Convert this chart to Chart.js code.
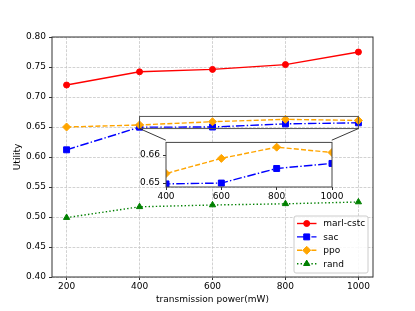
<!DOCTYPE html>
<html><head><meta charset="utf-8">
<script src="https://cdn.jsdelivr.net/npm/chart.js@4.4.1/dist/chart.umd.min.js"></script>
<style>
html,body{margin:0;padding:0;background:#fff;width:415px;height:311px;overflow:hidden}
#wrap{position:relative;width:415px;height:311px}
#main{position:absolute;left:0;top:0}
#inset{position:absolute}
</style></head>
<body><div id="wrap"><canvas id="main" width="415" height="311"></canvas><canvas id="inset" width="10" height="10"></canvas></div>
<script>
// ---- data ----
const powers = [200, 400, 600, 800, 1000];
const marlCstc = [0.720, 0.742, 0.746, 0.754, 0.775];
const sac = [0.612, 0.6497, 0.6500, 0.6552, 0.6570];
const ppo = [0.650, 0.6534, 0.6588, 0.6628, 0.6609];
const rand = [0.499, 0.517, 0.520, 0.522, 0.525];
const seriesNames = ['marl-cstc', 'sac', 'ppo', 'rand'];
const xTicks = [200, 400, 600, 800, 1000];
const yTicks = [0.40, 0.45, 0.50, 0.55, 0.60, 0.65, 0.70, 0.75, 0.80];
const insetXTicks = [400, 600, 800, 1000];
const insetYTicks = [0.65, 0.66];
const xAxisTitle = 'transmission power(mW)';
const yAxisTitle = 'Utility';

// ---- styles ----
const seriesValues = [marlCstc, sac, ppo, rand];
const styles = [
  {color: '#ff0000', dash: [], marker: 'circle', r: 3},
  {color: '#0000ff', dash: [8.6, 2.2, 1.4, 2.2], marker: 'rect', r: 4.2},
  {color: '#ffa500', dash: [5, 2.2], marker: 'rectRot', r: 4},
  {color: '#008000', dash: [1.4, 2.2], marker: 'triangle', r: 3.6}
];
const FONT = {family: '"DejaVu Sans", "Liberation Sans", sans-serif', size: 9};
Chart.defaults.color = '#000';
Chart.defaults.font.family = FONT.family;
Chart.defaults.font.size = FONT.size;

function makeDatasets(include) {
  return seriesNames.map((name, i) => ({
    label: name,
    data: powers.map((p, j) => ({x: p, y: seriesValues[i][j]})),
    borderColor: styles[i].color,
    backgroundColor: styles[i].color,
    borderWidth: 1.4,
    borderDash: styles[i].dash,
    pointStyle: styles[i].marker,
    pointRadius: styles[i].r,
    pointBorderWidth: 1,
    pointBackgroundColor: styles[i].color,
    pointBorderColor: styles[i].color,
    tension: 0,
    fill: false,
    order: seriesNames.length - i,
    hidden: include ? !include.includes(i) : false
  }));
}

// inset placement in main data coordinates & zoom rectangle
const INSET_POS = {x0: 472, x1: 927, y0: 0.55, y1: 0.628};
const ZOOM_RECT = {x0: 400, x1: 1000, y0: 0.6474, y1: 0.6676};
const INSET_LIM = {x0: 400, x1: 1000, y0: 0.6486, y1: 0.6645};

function drawMarker(ctx, style, x, y) {
  if (Chart.helpers && Chart.helpers.drawPoint) {
    Chart.helpers.drawPoint(ctx, {pointStyle: style.marker, radius: style.r, rotation: 0, borderWidth: 1}, x, y);
  } else {
    ctx.beginPath(); ctx.arc(x, y, style.r, 0, Math.PI * 2); ctx.fill(); ctx.stroke();
  }
}

const framePlugin = {
  id: 'frame',
  afterDatasetsDraw(chart) {
    const {ctx, chartArea: ca} = chart;
    ctx.save();
    ctx.strokeStyle = '#333';
    ctx.lineWidth = 1;
    ctx.strokeRect(ca.left, ca.top, ca.right - ca.left, ca.bottom - ca.top);
    ctx.restore();
  }
};

const zoomPlugin = {
  id: 'zoomMark',
  afterDatasetsDraw(chart) {
    const {ctx, scales: {x, y}} = chart;
    const rx0 = x.getPixelForValue(ZOOM_RECT.x0), rx1 = x.getPixelForValue(ZOOM_RECT.x1);
    const ry0 = y.getPixelForValue(ZOOM_RECT.y1), ry1 = y.getPixelForValue(ZOOM_RECT.y0);
    const ix0 = x.getPixelForValue(INSET_POS.x0), ix1 = x.getPixelForValue(INSET_POS.x1);
    const iy0 = y.getPixelForValue(INSET_POS.y1);
    ctx.save();
    ctx.strokeStyle = '#555';
    ctx.lineWidth = 1;
    ctx.strokeRect(rx0, ry0, rx1 - rx0, ry1 - ry0);
    ctx.strokeStyle = '#222';
    ctx.lineWidth = 0.9;
    ctx.beginPath();
    ctx.moveTo(rx0, ry1); ctx.lineTo(ix0, iy0);
    ctx.moveTo(rx1, ry1); ctx.lineTo(ix1, iy0);
    ctx.stroke();
    ctx.restore();
  }
};

const legendPlugin = {
  id: 'boxLegend',
  afterDraw(chart) {
    const {ctx, chartArea: ca} = chart;
    const w = 74, h = 57;
    const x0 = ca.right - 5 - w, y0 = ca.bottom - 4 - h;
    ctx.save();
    ctx.beginPath();
    if (ctx.roundRect) ctx.roundRect(x0, y0, w, h, 2); else ctx.rect(x0, y0, w, h);
    ctx.fillStyle = 'rgba(255,255,255,0.85)';
    ctx.fill();
    ctx.strokeStyle = '#cccccc';
    ctx.lineWidth = 1;
    ctx.stroke();
    seriesNames.forEach((name, i) => {
      const st = styles[i];
      const cy = y0 + 7.5 + i * 13.4;
      ctx.strokeStyle = st.color;
      ctx.fillStyle = st.color;
      ctx.lineWidth = 1.4;
      ctx.setLineDash(st.dash);
      ctx.beginPath(); ctx.moveTo(x0 + 3, cy); ctx.lineTo(x0 + 22.5, cy); ctx.stroke();
      ctx.setLineDash([]);
      ctx.lineWidth = 1;
      drawMarker(ctx, st, x0 + 12.7, cy);
      ctx.fillStyle = '#000';
      ctx.font = FONT.size + 'px ' + FONT.family;
      ctx.textBaseline = 'middle';
      ctx.textAlign = 'left';
      ctx.fillText(name, x0 + 29.3, cy + 0.5);
    });
    ctx.restore();
  }
};

const gridOpts = {color: '#c6c6c6', lineWidth: 0.8, tickColor: '#333', tickLength: 3, tickWidth: 1, tickBorderDash: []};
const mainChart = new Chart(document.getElementById('main'), {
  type: 'line',
  data: {datasets: makeDatasets()},
  options: {
    responsive: false, animation: false, devicePixelRatio: 1, events: [],
    layout: {padding: {left: 0, top: 37, right: 42, bottom: 0}},
    plugins: {legend: {display: false}, tooltip: {enabled: false}},
    scales: {
      x: {
        type: 'linear', min: 160, max: 1040,
        afterBuildTicks: s => { s.ticks = xTicks.map(v => ({value: v})); },
        afterFit: s => { s.height = 34; },
        ticks: {font: FONT, color: '#000', padding: 1, maxRotation: 0, autoSkip: false, callback: v => String(v)},
        grid: gridOpts,
        border: {display: false, dash: [2.8, 1.3]},
        title: {display: true, text: xAxisTitle, font: FONT, color: '#000', padding: {top: 0, bottom: 6}}
      },
      y: {
        type: 'linear', min: 0.4, max: 0.8,
        afterBuildTicks: s => { s.ticks = yTicks.map(v => ({value: v})); },
        afterFit: s => { s.width = 52; },
        ticks: {font: FONT, color: '#000', padding: 3, callback: v => Number(v).toFixed(2)},
        grid: gridOpts,
        border: {display: false, dash: [2.8, 1.3]},
        title: {display: true, text: yAxisTitle, font: FONT, color: '#000', padding: {top: 12, bottom: 0}}
      }
    }
  },
  plugins: [framePlugin, zoomPlugin, legendPlugin]
});

// ---- inset ----
const mx = mainChart.scales.x, my = mainChart.scales.y;
const L = Math.round(mx.getPixelForValue(INSET_POS.x0));
const R = Math.round(mx.getPixelForValue(INSET_POS.x1));
const T = Math.round(my.getPixelForValue(INSET_POS.y1));
const B = Math.round(my.getPixelForValue(INSET_POS.y0));
const padL = 36, padT = 6, padR = 18, padB = 18;
const insetCanvas = document.getElementById('inset');
insetCanvas.width = (R - L) + padL + padR;
insetCanvas.height = (B - T) + padT + padB;
insetCanvas.style.left = (L - padL) + 'px';
insetCanvas.style.top = (T - padT) + 'px';

const insetBg = {
  id: 'insetBg',
  beforeDraw(chart) {
    const {ctx, chartArea: ca} = chart;
    ctx.save(); ctx.fillStyle = '#fff';
    ctx.fillRect(ca.left, ca.top, ca.right - ca.left, ca.bottom - ca.top);
    ctx.restore();
  },
  afterDatasetsDraw(chart) {
    const {ctx, chartArea: ca} = chart;
    ctx.save(); ctx.strokeStyle = '#444'; ctx.lineWidth = 1;
    ctx.strokeRect(ca.left, ca.top, ca.right - ca.left, ca.bottom - ca.top);
    ctx.restore();
  }
};
const insetGrid = {drawOnChartArea: false, color: '#333', tickColor: '#333', tickLength: 3, tickWidth: 1, tickBorderDash: []};
new Chart(insetCanvas, {
  type: 'line',
  data: {datasets: makeDatasets([1, 2])},
  options: {
    responsive: false, animation: false, devicePixelRatio: 1, events: [],
    layout: {padding: {left: 0, top: padT, right: padR, bottom: 0}},
    plugins: {legend: {display: false}, tooltip: {enabled: false}},
    scales: {
      x: {
        type: 'linear', min: INSET_LIM.x0, max: INSET_LIM.x1,
        afterBuildTicks: s => { s.ticks = insetXTicks.map(v => ({value: v})); },
        afterFit: s => { s.height = padB; },
        ticks: {font: FONT, color: '#000', padding: 1, maxRotation: 0, autoSkip: false, callback: v => String(v)},
        grid: insetGrid,
        border: {display: false}
      },
      y: {
        type: 'linear', min: INSET_LIM.y0, max: INSET_LIM.y1,
        afterBuildTicks: s => { s.ticks = insetYTicks.map(v => ({value: v})); },
        afterFit: s => { s.width = padL; },
        ticks: {font: FONT, color: '#000', padding: 3, callback: v => Number(v).toFixed(2)},
        grid: insetGrid,
        border: {display: false}
      }
    }
  },
  plugins: [insetBg]
});
</script>
</body></html>
